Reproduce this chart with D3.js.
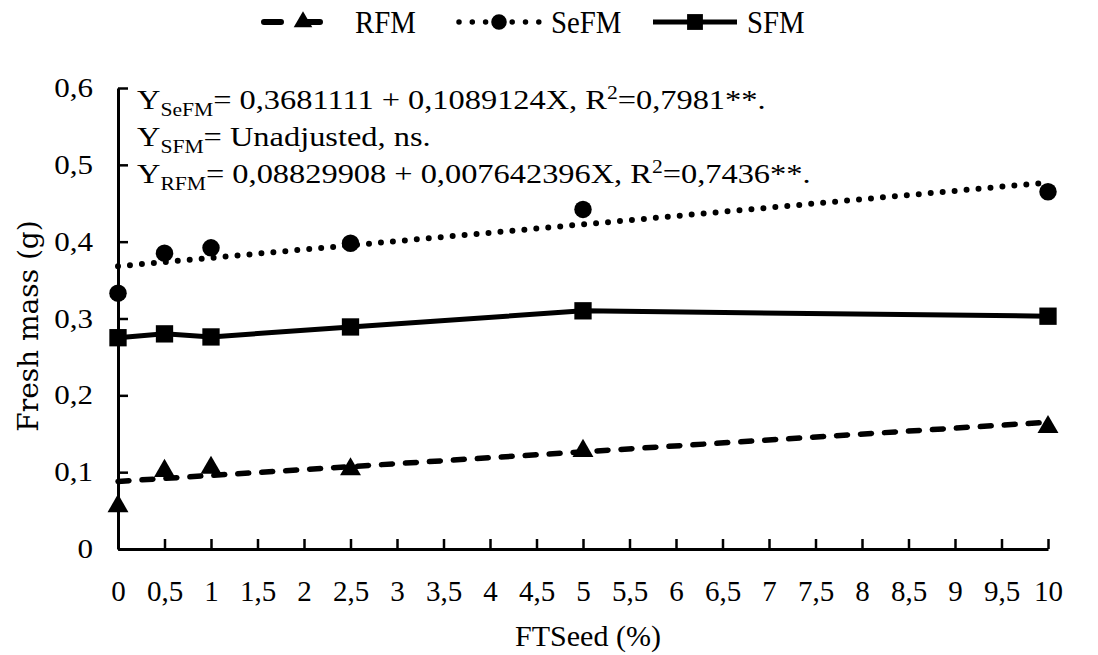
<!DOCTYPE html>
<html>
<head>
<meta charset="utf-8">
<script src="https://cdn.jsdelivr.net/npm/d3@7"></script>
<style>
  html, body { margin: 0; padding: 0; background: #fff; }
  svg { display: block; }
</style>
</head>
<body>
<svg id="chart" width="1098" height="655"></svg>
<script>
// ---- Data ----
const doses = [0, 0.5, 1, 2.5, 5, 10];
const seFM = [0.333, 0.385, 0.392, 0.398, 0.442, 0.465];
const sFM  = [0.275, 0.280, 0.276, 0.289, 0.310, 0.303];
const rFM  = [0.057, 0.103, 0.107, 0.105, 0.129, 0.160];
const trendX = [0, 10];
const seFMTrend = [0.368, 0.477];
const rFMTrend  = [0.088, 0.165];
const xTicks = [0, 0.5, 1, 1.5, 2, 2.5, 3, 3.5, 4, 4.5, 5, 5.5, 6, 6.5, 7, 7.5, 8, 8.5, 9, 9.5, 10];
const yTicks = [0, 0.1, 0.2, 0.3, 0.4, 0.5, 0.6];
const seriesNames = ["RFM", "SeFM", "SFM"];
const xTitle = "FTSeed (%)";
const yTitle = "Fresh mass (g)";

const SERIF = "'Liberation Serif', 'Times New Roman', serif";

// ---- Layout ----
const svg = d3.select("#chart");
const x = d3.scaleLinear().domain([0, 10]).range([118, 1048]);
const y = d3.scaleLinear().domain([0, 0.6]).range([549, 88]);
const fmt = d => String(d).replace(".", ",");

// axes
const xAxis = d3.axisBottom(x).tickValues(xTicks).tickFormat(fmt)
  .tickSizeInner(-10).tickSizeOuter(0).tickPadding(31);
const yAxis = d3.axisLeft(y).tickValues(yTicks).tickFormat(fmt)
  .tickSizeInner(-10).tickSizeOuter(0).tickPadding(25);

const gx = svg.append("g").attr("transform", `translate(0,${y(0)})`).call(xAxis);
const gy = svg.append("g").attr("transform", `translate(${x(0)},0)`).call(yAxis);
[gx, gy].forEach(g => {
  g.select(".domain").attr("stroke", "#000").attr("stroke-width", 3);
  g.selectAll(".tick line").attr("stroke", "#000").attr("stroke-width", 2.5);
  g.selectAll(".tick text").style("font-family", SERIF).attr("fill", "#000");
});
gx.selectAll(".tick text").style("font-size", "29px");
const ySX = 1.15;
gy.selectAll(".tick text").style("font-size", "27px")
  .attr("x", -25 / ySX).attr("transform", `scale(${ySX},1)`);

// axis titles
svg.append("text").attr("x", 588).attr("y", 646).attr("text-anchor", "middle")
  .style("font-family", SERIF).style("font-size", "30px").text(xTitle);
svg.append("text").attr("transform", "translate(38,326) rotate(-90)").attr("text-anchor", "middle")
  .style("font-family", "'DejaVu Serif', serif").style("font-size", "28px").text(yTitle);

// ---- Trend lines ----
const line = d3.line().x(d => x(d[0])).y(d => y(d[1]));
svg.append("path").datum(d3.zip(trendX, seFMTrend)).attr("d", line)
  .attr("fill", "none").attr("stroke", "#000").attr("stroke-width", 6)
  .attr("stroke-linecap", "round").attr("stroke-dasharray", "0,12");
svg.append("path").datum(d3.zip(trendX, rFMTrend)).attr("d", line)
  .attr("fill", "none").attr("stroke", "#000").attr("stroke-width", 5.5)
  .attr("stroke-linecap", "round").attr("stroke-dasharray", "11,13");
// SFM connected line
svg.append("path").datum(d3.zip(doses, sFM)).attr("d", line)
  .attr("fill", "none").attr("stroke", "#000").attr("stroke-width", 5);

// ---- Markers ----
const symCircle = d3.symbol().type(d3.symbolCircle).size(240);
const symSquare = d3.symbol().type(d3.symbolSquare).size(300);
const symTri = d3.symbol().type(d3.symbolTriangle).size(190);
svg.append("g").selectAll("path").data(d3.zip(doses, seFM)).join("path")
  .attr("transform", d => `translate(${x(d[0])},${y(d[1])})`).attr("d", symCircle).attr("fill", "#000");
svg.append("g").selectAll("path").data(d3.zip(doses, sFM)).join("path")
  .attr("transform", d => `translate(${x(d[0])},${y(d[1])})`).attr("d", symSquare).attr("fill", "#000");
svg.append("g").selectAll("path").data(d3.zip(doses, rFM)).join("path")
  .attr("transform", d => `translate(${x(d[0])},${y(d[1]) + 1})`).attr("d", symTri).attr("fill", "#000");

// ---- Equations ----
const eq = svg.append("g").style("font-family", SERIF).style("font-size", "27px");
const eqSX = 1.2;
function eqLine(yy, sub, rest, sup, tail) {
  const t = eq.append("text").attr("x", 0).attr("y", 0)
    .attr("transform", `translate(137,${yy}) scale(${eqSX},1)`);
  t.append("tspan").text("Y");
  t.append("tspan").style("font-size", "18px").attr("dy", 7).text(sub);
  t.append("tspan").attr("dy", -7).text(rest);
  if (sup) {
    t.append("tspan").style("font-size", "18px").attr("dy", -10).text(sup);
    t.append("tspan").attr("dy", 10).text(tail);
  }
}
eqLine(109, "SeFM", "= 0,3681111 + 0,1089124X, R", "2", "=0,7981**.");
eqLine(146, "SFM", "= Unadjusted, ns.", null, null);
eqLine(183, "RFM", "= 0,08829908 + 0,007642396X, R", "2", "=0,7436**.");

// ---- Legend ----
const leg = svg.append("g");
const legY = 22;
const legSX = 0.93;
seriesNames.forEach((name, i) => {
  const cx = 303 + i * 196;
  const g = leg.append("g");
  if (name === "RFM") {
    g.append("line").attr("x1", cx - 39).attr("x2", cx + 39).attr("y1", legY).attr("y2", legY)
      .attr("stroke", "#000").attr("stroke-width", 6).attr("stroke-linecap", "round").attr("stroke-dasharray", "17,22");
    g.append("path").attr("transform", `translate(${cx},${legY})`)
      .attr("d", d3.symbol().type(d3.symbolTriangle).size(150)).attr("fill", "#000");
  } else if (name === "SeFM") {
    g.append("line").attr("x1", cx - 40).attr("x2", cx + 40).attr("y1", legY).attr("y2", legY)
      .attr("stroke", "#000").attr("stroke-width", 5.5).attr("stroke-linecap", "round").attr("stroke-dasharray", "0,13.3");
    g.append("path").attr("transform", `translate(${cx},${legY})`)
      .attr("d", d3.symbol().type(d3.symbolCircle).size(190)).attr("fill", "#000");
  } else {
    g.append("line").attr("x1", cx - 42).attr("x2", cx + 42).attr("y1", legY).attr("y2", legY)
      .attr("stroke", "#000").attr("stroke-width", 5);
    g.append("path").attr("transform", `translate(${cx},${legY})`)
      .attr("d", d3.symbol().type(d3.symbolSquare).size(250)).attr("fill", "#000");
  }
  g.append("text").attr("x", 0).attr("y", 0)
    .attr("transform", `translate(${cx + 52},${legY + 11}) scale(${legSX},1)`)
    .style("font-family", SERIF).style("font-size", "31px").text(name);
});
</script>
</body>
</html>
